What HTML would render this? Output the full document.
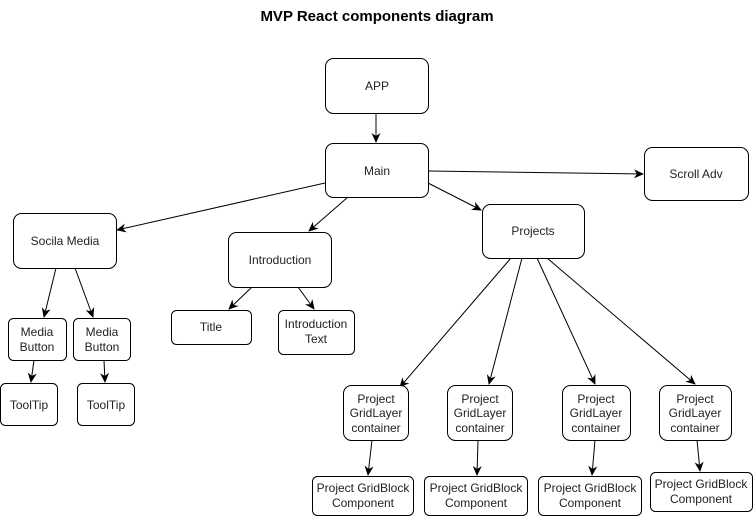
<!DOCTYPE html>
<html><head><meta charset="utf-8"><style>
html,body{margin:0;padding:0;background:#fff;}
svg{display:block;}
text{font-family:"Liberation Sans",Arial,sans-serif;font-size:12px;fill:#222;text-anchor:middle;}
rect{fill:#fff;stroke:#000;stroke-width:1;}
line{stroke:#000;stroke-width:1;}
</style></head><body>
<svg width="754" height="516" viewBox="0 0 754 516" xmlns="http://www.w3.org/2000/svg">
<defs><marker id="a" markerWidth="10" markerHeight="10" refX="9" refY="5" orient="auto" markerUnits="userSpaceOnUse"><path d="M0,0.5 L10,5 L0,9.5 L3,5 Z" fill="#000"/></marker></defs>
<text x="377" y="21" style="font-size:15px;font-weight:bold;fill:#000">MVP React components diagram</text>
<g marker-end="url(#a)">
<line x1="376" y1="113" x2="376" y2="142"/>
<line x1="428" y1="171" x2="643" y2="174"/>
<line x1="325" y1="183" x2="117" y2="230"/>
<line x1="348" y1="197" x2="309" y2="231"/>
<line x1="428" y1="183" x2="481" y2="210"/>
<line x1="511" y1="258" x2="400" y2="387"/>
<line x1="522" y1="258" x2="489" y2="384"/>
<line x1="537" y1="258" x2="595" y2="384"/>
<line x1="547" y1="258" x2="695" y2="384"/>
<line x1="372" y1="440" x2="368" y2="475"/>
<line x1="478" y1="440" x2="477" y2="475"/>
<line x1="595" y1="440" x2="592" y2="475"/>
<line x1="697" y1="440" x2="700" y2="471"/>
<line x1="56" y1="268" x2="44" y2="317"/>
<line x1="75" y1="268" x2="93" y2="317"/>
<line x1="34" y1="360" x2="31" y2="382"/>
<line x1="104" y1="360" x2="105" y2="382"/>
<line x1="252" y1="287" x2="229" y2="309"/>
<line x1="298" y1="287" x2="314" y2="309"/>
</g>
<rect x="325.5" y="58.5" width="103" height="55" rx="8"/><text x="377" y="90">APP</text>
<rect x="325.5" y="143.5" width="103" height="54" rx="8"/><text x="377" y="175">Main</text>
<rect x="644.5" y="147.5" width="104" height="53" rx="8"/><text x="696" y="178">Scroll Adv</text>
<rect x="482.5" y="204.5" width="102" height="54" rx="8"/><text x="533" y="235">Projects</text>
<rect x="13.5" y="213.5" width="103" height="55" rx="8"/><text x="65" y="245">Socila Media</text>
<rect x="228.5" y="232.5" width="103" height="55" rx="8"/><text x="280" y="264">Introduction</text>
<rect x="171.5" y="310.5" width="80" height="34" rx="5"/><text x="211" y="331">Title</text>
<rect x="278.5" y="310.5" width="76" height="44" rx="5"/><text x="316" y="328">Introduction</text><text x="316" y="343">Text</text>
<rect x="8.5" y="318.5" width="58" height="42" rx="5"/><text x="37" y="336">Media</text><text x="37" y="351">Button</text>
<rect x="73.5" y="318.5" width="57" height="42" rx="5"/><text x="102" y="336">Media</text><text x="102" y="351">Button</text>
<rect x="0.5" y="383.5" width="57" height="42" rx="5"/><text x="29" y="409">ToolTip</text>
<rect x="77.5" y="383.5" width="57" height="42" rx="5"/><text x="106" y="409">ToolTip</text>
<g>
<rect x="343.5" y="385.5" width="65" height="55" rx="8"/><text x="376" y="403">Project</text><text x="376" y="417">GridLayer</text><text x="376" y="432">container</text>
<rect x="447.5" y="385.5" width="65" height="55" rx="8"/><text x="480" y="403">Project</text><text x="480" y="417">GridLayer</text><text x="480" y="432">container</text>
<rect x="562.5" y="385.5" width="68" height="55" rx="8"/><text x="596" y="403">Project</text><text x="596" y="417">GridLayer</text><text x="596" y="432">container</text>
<rect x="659.5" y="385.5" width="72" height="55" rx="8"/><text x="695" y="403">Project</text><text x="695" y="417">GridLayer</text><text x="695" y="432">container</text>
<rect x="312.5" y="476.5" width="101" height="39" rx="5"/><text x="363" y="492">Project GridBlock</text><text x="363" y="507">Component</text>
<rect x="424.5" y="476.5" width="103" height="39" rx="5"/><text x="476" y="492">Project GridBlock</text><text x="476" y="507">Component</text>
<rect x="538.5" y="476.5" width="103" height="39" rx="5"/><text x="590" y="492">Project GridBlock</text><text x="590" y="507">Component</text>
<rect x="650.5" y="472.5" width="102" height="39" rx="5"/><text x="701" y="488">Project GridBlock</text><text x="701" y="503">Component</text>
</g>
</svg>
</body></html>
